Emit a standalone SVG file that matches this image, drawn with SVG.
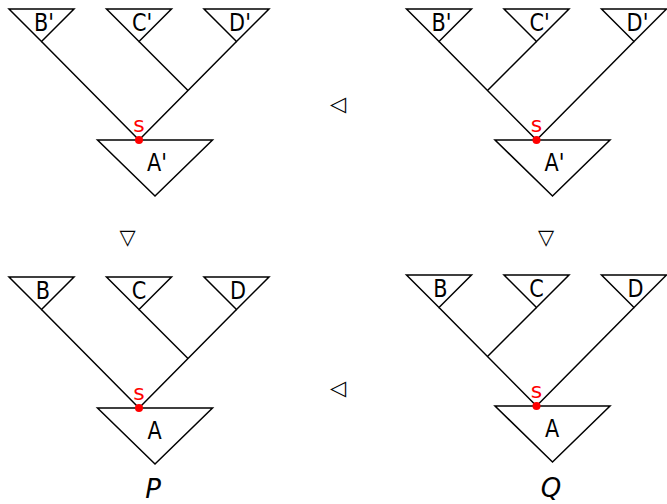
<svg xmlns="http://www.w3.org/2000/svg" width="667" height="504" viewBox="0 0 667 504">
<style>
.e{fill:none;stroke:#000;stroke-width:1.5}
.t{fill:#fff;stroke:#000;stroke-width:1.5;stroke-linejoin:miter}
.l{font-family:"DejaVu Sans",sans-serif;font-size:24.5px;text-anchor:middle;fill:#000}
.s{font-family:"DejaVu Sans",sans-serif;font-size:22px;text-anchor:middle;fill:#ff0000}
.sym{font-family:"DejaVu Sans",sans-serif;font-size:21px;text-anchor:middle;fill:#000}
.nm{font-family:"DejaVu Sans",sans-serif;font-size:26px;font-style:italic;text-anchor:middle;fill:#000}
</style>
<rect width="667" height="504" fill="#fff"/>

<!-- Tree P' (top left) -->
<g id="treePprime">
  <g id="edgesPprime">
    <path class="e" d="M41.5,41.5 L139,140 M236.5,41.5 L139,140 M139,41.5 L187.75,90.25"/>
  </g>
  <g id="Pp_B"><polygon class="t" points="9,9 74,9 41.5,41.5"/><text class="l" transform="translate(44,30.5) scale(0.85,1)">B'</text></g>
  <g id="Pp_C"><polygon class="t" points="106.5,9 171.5,9 139,41.5"/><text class="l" transform="translate(142,30.5) scale(0.85,1)">C'</text></g>
  <g id="Pp_D"><polygon class="t" points="204,9 269,9 236.5,41.5"/><text class="l" transform="translate(240,30.5) scale(0.85,1)">D'</text></g>
  <g id="Pp_A"><polygon class="t" points="97.5,140 212.5,140 155,196"/><text class="l" transform="translate(157,170.5) scale(0.85,1)">A'</text></g>
  <g id="Pp_s"><circle cx="139" cy="140" r="4" fill="#ff0000"/><text class="s" x="139" y="131.5">s</text></g>
</g>

<!-- Tree Q' (top right) -->
<g id="treeQprime">
  <g id="edgesQprime">
    <path class="e" d="M439,41.5 L536.5,140 M634,41.5 L536.5,140 M536.5,41.5 L487.75,90.25"/>
  </g>
  <g id="Qp_B"><polygon class="t" points="406.5,9 471.5,9 439,41.5"/><text class="l" transform="translate(441.5,30.5) scale(0.85,1)">B'</text></g>
  <g id="Qp_C"><polygon class="t" points="504,9 569,9 536.5,41.5"/><text class="l" transform="translate(539.5,30.5) scale(0.85,1)">C'</text></g>
  <g id="Qp_D"><polygon class="t" points="601.5,9 666.5,9 634,41.5"/><text class="l" transform="translate(637.5,30.5) scale(0.85,1)">D'</text></g>
  <g id="Qp_A"><polygon class="t" points="495,140 610,140 552.5,196"/><text class="l" transform="translate(554.5,170.5) scale(0.85,1)">A'</text></g>
  <g id="Qp_s"><circle cx="536.5" cy="140" r="4" fill="#ff0000"/><text class="s" x="536.5" y="131.5">s</text></g>
</g>

<!-- Tree P (bottom left) -->
<g id="treeP" transform="translate(0,268)">
  <g id="edgesP">
    <path class="e" d="M41.5,41.5 L139,140 M236.5,41.5 L139,140 M139,41.5 L187.75,90.25"/>
  </g>
  <g id="P_B"><polygon class="t" points="9,9 74,9 41.5,41.5"/><text class="l" transform="translate(43,30.5) scale(0.85,1)">B</text></g>
  <g id="P_C"><polygon class="t" points="106.5,9 171.5,9 139,41.5"/><text class="l" transform="translate(139,30.5) scale(0.85,1)">C</text></g>
  <g id="P_D"><polygon class="t" points="204,9 269,9 236.5,41.5"/><text class="l" transform="translate(238,30.5) scale(0.85,1)">D</text></g>
  <g id="P_A"><polygon class="t" points="97.5,140 212.5,140 155,196"/><text class="l" transform="translate(154.5,170.5) scale(0.85,1)">A</text></g>
  <g id="P_s"><circle cx="139" cy="140" r="4" fill="#ff0000"/><text class="s" x="139" y="131.5">s</text></g>
</g>

<!-- Tree Q (bottom right) -->
<g id="treeQ" transform="translate(0,266)">
  <g id="edgesQ">
    <path class="e" d="M439,41.5 L536.5,140 M634,41.5 L536.5,140 M536.5,41.5 L487.75,90.25"/>
  </g>
  <g id="Q_B"><polygon class="t" points="406.5,9 471.5,9 439,41.5"/><text class="l" transform="translate(440.5,30.5) scale(0.85,1)">B</text></g>
  <g id="Q_C"><polygon class="t" points="504,9 569,9 536.5,41.5"/><text class="l" transform="translate(536.5,30.5) scale(0.85,1)">C</text></g>
  <g id="Q_D"><polygon class="t" points="601.5,9 666.5,9 634,41.5"/><text class="l" transform="translate(635.5,30.5) scale(0.85,1)">D</text></g>
  <g id="Q_A"><polygon class="t" points="495,140 610,140 552.5,196"/><text class="l" transform="translate(552,170.5) scale(0.85,1)">A</text></g>
  <g id="Q_s"><circle cx="536.5" cy="140" r="4" fill="#ff0000"/><text class="s" x="536.5" y="131.5">s</text></g>
</g>

<!-- relation symbols -->
<g id="relations">
  <text class="sym" x="338" y="111">◁</text>
  <text class="sym" x="338" y="395">◁</text>
  <text class="sym" x="127.5" y="244">▽</text>
  <text class="sym" x="546" y="244">▽</text>
</g>

<g id="names">
  <text class="nm" x="153" y="497.5">P</text>
  <text class="nm" x="551" y="497">Q</text>
</g>
</svg>
